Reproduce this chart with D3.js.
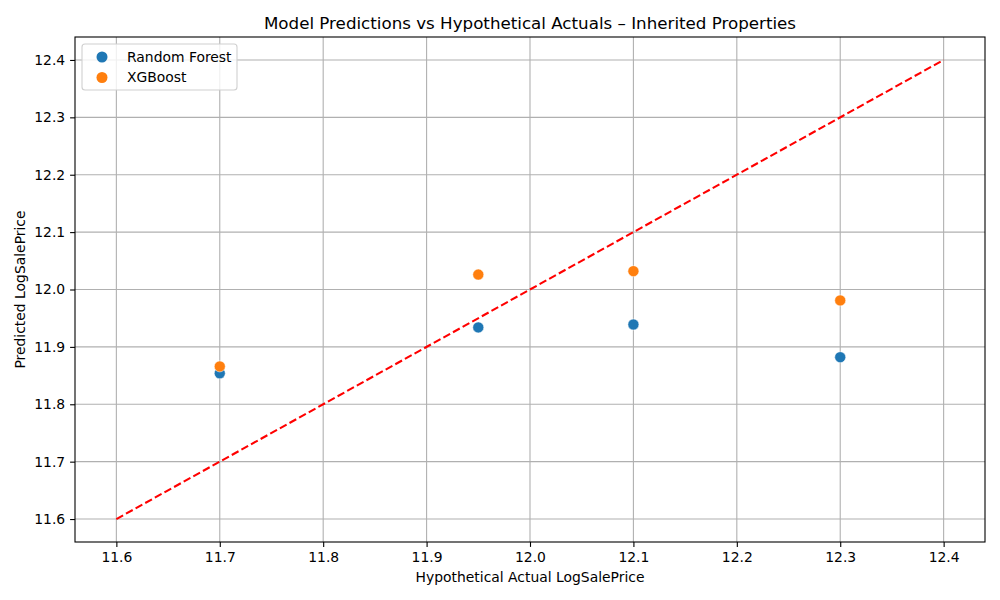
<!DOCTYPE html>
<html><head><meta charset="utf-8">
<script src="https://cdn.jsdelivr.net/npm/d3@7"></script>
<style>body{margin:0;background:#fff}svg{display:block;font-family:"DejaVu Sans",sans-serif}</style>
</head><body>
<svg id="c" width="1000" height="600"></svg>
<script>
const actuals = [11.7, 11.95, 12.1, 12.3];
const rfPred = [11.854, 11.934, 11.939, 11.882];
const xgbPred = [11.866, 12.026, 12.032, 11.981];
const seriesNames = ["Random Forest", "XGBoost"];
const seriesColors = ["#1f77b4", "#ff7f0e"];
const xTicks = [11.6, 11.7, 11.8, 11.9, 12.0, 12.1, 12.2, 12.3, 12.4];
const yTicks = [11.6, 11.7, 11.8, 11.9, 12.0, 12.1, 12.2, 12.3, 12.4];
const idealLine = [11.6, 12.4];

const svg = d3.select("#c");
const L = 75, R = 985, T = 37, B = 542;
const x = d3.scaleLinear().domain([11.56, 12.44]).range([L, R]);
const y = d3.scaleLinear().domain([11.56, 12.44]).range([B, T]);

// grid
const g = svg.append("g");
g.selectAll(".gx").data(xTicks).join("line")
  .attr("x1", d => x(d)).attr("x2", d => x(d)).attr("y1", T).attr("y2", B)
  .attr("stroke", "#b0b0b0").attr("stroke-width", 1.1);
g.selectAll(".gy").data(yTicks).join("line")
  .attr("y1", d => y(d)).attr("y2", d => y(d)).attr("x1", L).attr("x2", R)
  .attr("stroke", "#b0b0b0").attr("stroke-width", 1.1);

// axes
const fmt = d3.format(".1f");
const xa = svg.append("g").attr("transform", `translate(0,${B})`)
  .call(d3.axisBottom(x).tickValues(xTicks).tickFormat(fmt).tickSize(4.9).tickPadding(4.9));
const ya = svg.append("g").attr("transform", `translate(${L},0)`)
  .call(d3.axisLeft(y).tickValues(yTicks).tickFormat(fmt).tickSize(4.9).tickPadding(4.9));
[xa, ya].forEach(a => {
  a.select(".domain").remove();
  a.selectAll("text").attr("font-size", 13.9).attr("font-family", "DejaVu Sans").attr("fill", "#000");
  a.selectAll("line").attr("stroke", "#000").attr("stroke-width", 1.1);
});

// ideal line
svg.append("line")
  .attr("x1", x(idealLine[0])).attr("y1", y(idealLine[0]))
  .attr("x2", x(idealLine[1])).attr("y2", y(idealLine[1]))
  .attr("stroke", "red").attr("stroke-width", 2.08).attr("stroke-dasharray", "7.7,3.3");

// points
const series = [rfPred, xgbPred];
series.forEach((vals, i) => {
  svg.append("g").selectAll("circle").data(actuals.map((a, j) => [a, vals[j]])).join("circle")
    .attr("cx", d => x(d[0])).attr("cy", d => y(d[1])).attr("r", 5.5)
    .attr("fill", seriesColors[i]).attr("stroke", "#fff").attr("stroke-width", 0.5);
});

// frame
svg.append("rect").attr("x", L).attr("y", T).attr("width", R - L).attr("height", B - T)
  .attr("fill", "none").attr("stroke", "#000").attr("stroke-width", 1.1);

// legend
const lg = svg.append("g");
lg.append("rect").attr("x", 82).attr("y", 44).attr("width", 155).attr("height", 46).attr("rx", 3)
  .attr("fill", "#fff").attr("fill-opacity", 0.8).attr("stroke", "#d0d0d0").attr("stroke-width", 1.1);
seriesNames.forEach((n, i) => {
  lg.append("circle").attr("cx", 102).attr("cy", 57 + i * 20.5).attr("r", 5.5).attr("fill", seriesColors[i]);
  lg.append("text").attr("x", 127).attr("y", 57 + i * 20.5).attr("dy", "0.35em")
    .attr("font-size", 13.9).text(n);
});

// titles
svg.append("text").attr("x", (L + R) / 2).attr("y", 29).attr("text-anchor", "middle")
  .attr("font-size", 16.7).text("Model Predictions vs Hypothetical Actuals – Inherited Properties");
svg.append("text").attr("x", (L + R) / 2).attr("y", 582).attr("text-anchor", "middle")
  .attr("font-size", 13.9).text("Hypothetical Actual LogSalePrice");
svg.append("text").attr("transform", `translate(25,${(T + B) / 2}) rotate(-90)`).attr("text-anchor", "middle")
  .attr("font-size", 13.9).text("Predicted LogSalePrice");
</script>
</body></html>
